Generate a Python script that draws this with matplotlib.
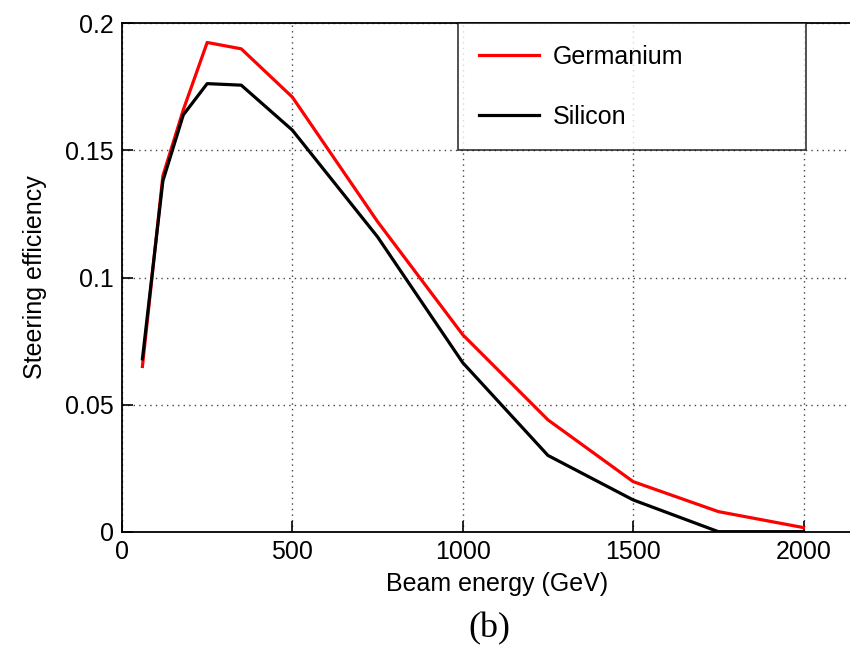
import matplotlib.pyplot as plt

# Beam energy (GeV) and steering efficiency
energy = [60, 120, 180, 250, 350, 500, 750, 1000, 1250, 1500, 1750, 2000]
germanium = [0.065, 0.140, 0.166, 0.1925, 0.190, 0.171, 0.122, 0.0775, 0.044, 0.0197, 0.0079, 0.0016]
silicon = [0.068, 0.138, 0.164, 0.1763, 0.1757, 0.158, 0.116, 0.0665, 0.030, 0.0125, 0.0, 0.0]

xticks = [0, 500, 1000, 1500, 2000]
yticks = [0, 0.05, 0.1, 0.15, 0.2]
ytick_labels = ['0', '0.05', '0.1', '0.15', '0.2']

plt.rcParams['font.family'] = ['Liberation Sans', 'DejaVu Sans']

fig = plt.figure(figsize=(8.5, 6.45), dpi=100)
ax = fig.add_axes([0.1435, 0.1757, 0.882, 0.788])

ax.plot(energy, germanium, color='#ff0000', lw=2.3, label='Germanium', zorder=3)
ax.plot(energy, silicon, color='black', lw=2.3, label='Silicon', zorder=3)

ax.set_xlim(0, 2200)
ax.set_ylim(0, 0.2)
ax.set_xticks(xticks)
ax.set_yticks(yticks)
ax.set_yticklabels(ytick_labels)
ax.tick_params(direction='in', length=8, width=1.2, labelsize=18, pad=6)
ax.grid(True, linestyle=(0, (1, 3)), color='#444444', lw=1)
for s in ax.spines.values():
    s.set_linewidth(1.3)

ax.set_xlabel('Beam energy (GeV)', fontsize=18, labelpad=6)
ax.set_ylabel('Steering efficiency', fontsize=18, labelpad=13)

leg = ax.legend(loc='upper left', bbox_to_anchor=(0.448, 1.0, 0.464, 0.0), mode='expand',
                fontsize=18, frameon=True, fancybox=False, borderpad=0.85,
                labelspacing=1.45, handlelength=2.4, handletextpad=0.55, borderaxespad=0)
leg.get_frame().set_edgecolor('black')
leg.get_frame().set_linewidth(1.2)
leg.set_zorder(5)

fig.text(0.576, 0.012, '(b)', fontsize=26, family='Liberation Serif', ha='center')

fig.savefig('out.png', dpi=100)
